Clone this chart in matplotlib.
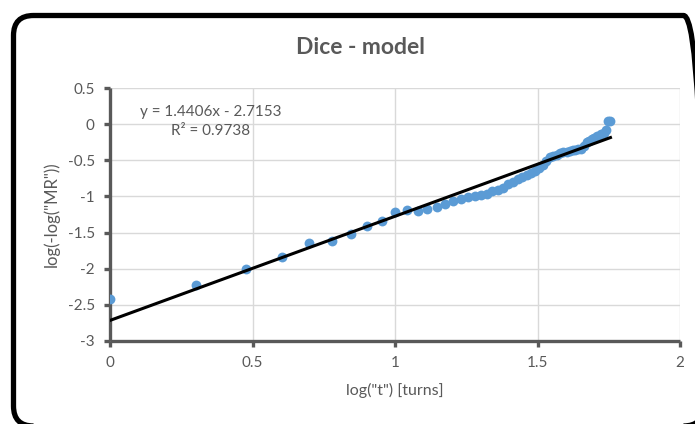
import matplotlib
matplotlib.use("Agg")
import matplotlib.pyplot as plt
from matplotlib.patches import FancyBboxPatch

plt.rcParams['font.family'] = ['Lato', 'DejaVu Sans']

# log("t") for t = 1..57 turns
log_t = [0.0, 0.301, 0.477, 0.602, 0.699, 0.778, 0.845, 0.903, 0.954, 1.0,
         1.041, 1.079, 1.114, 1.146, 1.176, 1.204, 1.230, 1.255, 1.279, 1.301,
         1.322, 1.342, 1.362, 1.380, 1.398, 1.415, 1.431, 1.447, 1.462, 1.477,
         1.491, 1.505, 1.519, 1.531, 1.544, 1.556, 1.568, 1.580, 1.591, 1.602,
         1.613, 1.623, 1.633, 1.643, 1.653, 1.663, 1.672, 1.681, 1.690, 1.699,
         1.708, 1.716, 1.724, 1.732, 1.740, 1.748, 1.756]
log_mr = [-2.425, -2.23, -2.00, -1.84, -1.65, -1.61, -1.52, -1.415, -1.34, -1.22,
          -1.19, -1.20, -1.17, -1.14, -1.10, -1.07, -1.04, -1.01, -0.99, -0.975,
          -0.965, -0.93, -0.91, -0.89, -0.83, -0.80, -0.76, -0.73, -0.70, -0.68,
          -0.65, -0.60, -0.56, -0.51, -0.45, -0.44, -0.42, -0.40, -0.39, -0.385,
          -0.37, -0.36, -0.355, -0.35, -0.345, -0.30, -0.25, -0.23, -0.21, -0.185,
          -0.17, -0.16, -0.14, -0.12, -0.08, 0.04, 0.045]

slope = 1.4406
intercept = -2.7153
r2 = 0.9738

xticks = [0, 0.5, 1, 1.5, 2]
yticks = [0.5, 0, -0.5, -1, -1.5, -2, -2.5, -3]

grey = '#595959'

fig = plt.figure(figsize=(6.95, 4.24), dpi=100)
ax = fig.add_axes([110 / 695, 1 - 341 / 424, 570 / 695, 253 / 424])

ax.grid(True, color='#d9d9d9', lw=1.0)
ax.set_axisbelow(True)

ax.scatter(log_t, log_mr, s=50, color='#5b9bd5', zorder=3, linewidths=0)
xs = [min(log_t), max(log_t)]
ax.plot(xs, [slope * v + intercept for v in xs], color='black', lw=2.2, zorder=4)

ax.set_xlim(0, 2)
ax.set_ylim(-3, 0.5)
ax.set_xticks(xticks)
ax.set_yticks(yticks)
ax.set_xticklabels([f'{v:g}' for v in xticks])
ax.set_yticklabels([f'{v:g}' for v in yticks])

for side in ['top', 'right']:
    ax.spines[side].set_visible(False)
for side in ['left', 'bottom']:
    ax.spines[side].set_color(grey)
    ax.spines[side].set_linewidth(2.4)
    ax.spines[side].set_capstyle('butt')
ax.tick_params(colors=grey, labelsize=11, length=4, width=2.4, pad=7)

ax.set_xlabel('log("t") [turns]', color=grey, fontsize=11.5, labelpad=9)
ax.set_ylabel('log(-log("MR"))', color=grey, fontsize=12, labelpad=6)
fig.text(360 / 695, 1 - 47 / 424, 'Dice - model', ha='center', va='center',
         fontsize=16.5, fontweight='bold', color=grey)

ax.text(0.354, 0.168, f'y = {slope}x - {abs(intercept)}', ha='center', va='center',
        fontsize=11, color=grey)
ax.text(0.354, -0.09, f'R² = {r2}', ha='center', va='center',
        fontsize=11, color=grey)

# rounded chart border, running slightly past the right and bottom edges
frame = FancyBboxPatch((13.5, -2), 690, 410.5, boxstyle='round,pad=0,rounding_size=20',
                       transform=None, fill=False, edgecolor='black', lw=3.8,
                       clip_on=False)
fig.patches.append(frame)

fig.savefig('out.png', dpi=100)
